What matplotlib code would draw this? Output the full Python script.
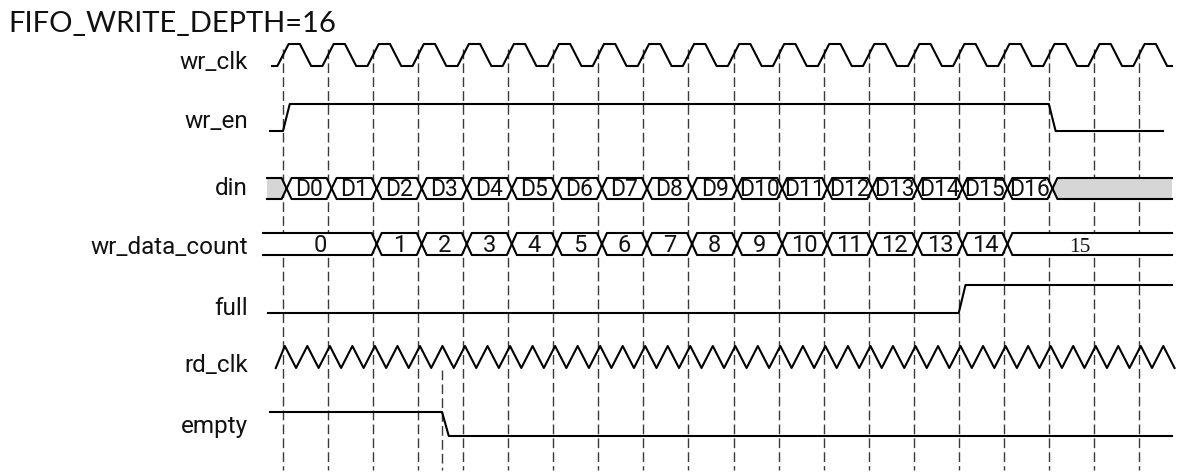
import matplotlib.pyplot as plt
from matplotlib.patches import Polygon

# FIFO write timing diagram, time is counted in wr_clk cycles
title = 'FIFO_WRITE_DEPTH=16'
signals = ['wr_clk', 'wr_en', 'din', 'wr_data_count', 'full', 'rd_clk', 'empty']

# clock edges
wr_clk_rise = [0, 1, 2, 3, 4, 5, 6, 7, 8, 9, 10, 11, 12, 13, 14, 15, 16, 17, 18, 19]
rd_clk_peaks = [0.0, 0.5, 1.0, 1.5, 2.0, 2.5, 3.0, 3.5, 4.0, 4.5,
                5.0, 5.5, 6.0, 6.5, 7.0, 7.5, 8.0, 8.5, 9.0, 9.5,
                10.0, 10.5, 11.0, 11.5, 12.0, 12.5, 13.0, 13.5, 14.0, 14.5,
                15.0, 15.5, 16.0, 16.5, 17.0, 17.5, 18.0, 18.5, 19.0, 19.5]

# single bit signals: starting level and the times where they toggle
wr_en_start = 0
wr_en_edges = [0, 17]
full_start = 0
full_edges = [15]
empty_start = 1
empty_edges = [3.53]

# buses
din_edges = [0, 1, 2, 3, 4, 5, 6, 7, 8, 9, 10, 11, 12, 13, 14, 15, 16, 17]
din_values = ['', 'D0', 'D1', 'D2', 'D3', 'D4', 'D5', 'D6', 'D7', 'D8', 'D9',
              'D10', 'D11', 'D12', 'D13', 'D14', 'D15', 'D16', '']
count_edges = [2, 3, 4, 5, 6, 7, 8, 9, 10, 11, 12, 13, 14, 15, 16]
count_values = ['0', '1', '2', '3', '4', '5', '6', '7', '8', '9',
                '10', '11', '12', '13', '14', '15']

# layout (pixel rows, y grows downward)
W, H = 1196, 472
X0 = 283.0       # pixel of first dashed line
PX = 45.05       # pixels per wr_clk cycle
rows = {  # top level, bottom level, label baseline
    'wr_clk': (44, 66, 69),
    'wr_en': (104, 131, 128),
    'din': (178, 199, 195),
    'wr_data_count': (233, 255, 254),
    'full': (285, 313, 315),
    'rd_clk': (346, 368, 372),
    'empty': (412, 436, 433),
}
LW = 1.5
GRAY = '#d6d6d6'
LABEL_FONT = 'Roboto'


def t(px):
    return (px - X0) / PX


def draw_levels(ax, top, bot, start, end, level, edges, slope=0.15):
    xs = [start]
    ys = [top if level else bot]
    for e in edges:
        xs += [e, e + slope]
        ys.append(top if level else bot)
        level = 1 - level
        ys.append(top if level else bot)
    xs.append(end)
    ys.append(top if level else bot)
    ax.plot(xs, ys, color='black', lw=LW, zorder=3)


def draw_wr_clk(ax, top, bot, start, end, rises):
    q = 0.25
    xs = [start]
    ys = [bot]
    for r in rises:
        xs += [r - q / 2, r + q / 2, r + q * 1.5, r + q * 2.5]
        ys += [bot, top, top, bot]
    xs.append(end)
    ys.append(bot)
    ax.plot(xs, ys, color='black', lw=LW, zorder=3)


def draw_rd_clk(ax, top, bot, peaks, phase=0.04):
    xs = [peaks[0] + phase - 0.2]
    ys = [bot]
    for p in peaks:
        xs += [p + phase, p + phase + 0.25]
        ys += [top, bot]
    ax.plot(xs, ys, color='black', lw=LW, zorder=3)


def draw_bus(ax, top, bot, start, end, edges, values, fills, text_kw,
             w=0.22, shift=0.08):
    mid = (top + bot) / 2
    bounds = [start] + edges + [end]
    for i, val in enumerate(values):
        s, e = bounds[i], bounds[i + 1]
        up, dn = [], []
        if i > 0:
            c = s + shift
            up += [(c, mid), (c + w / 2, top)]
            dn += [(c, mid), (c + w / 2, bot)]
        else:
            up.append((s, top))
            dn.append((s, bot))
        if i < len(values) - 1:
            c = e + shift
            up += [(c - w / 2, top), (c, mid)]
            dn += [(c - w / 2, bot), (c, mid)]
        else:
            up.append((e, top))
            dn.append((e, bot))
        ax.add_patch(Polygon(up + dn[::-1], closed=True, fc=fills[i],
                             ec='none', zorder=2))
        ax.plot(*zip(*up), color='black', lw=LW, zorder=3)
        ax.plot(*zip(*dn), color='black', lw=LW, zorder=3)
        if val:
            kw = dict(text_kw)
            if callable(kw.get('family')):
                kw['family'] = kw['family'](val)
            if callable(kw.get('fontsize')):
                kw['fontsize'] = kw['fontsize'](val)
            xc = (up[0][0] + up[-1][0]) / 2 + kw.pop('dx', lambda v: 0)(val)
            ax.text(xc, mid + kw.pop('dy', lambda v: 7)(val), val,
                    ha='center', va='baseline', zorder=4, **kw)


fig = plt.figure(figsize=(W / 100, H / 100), dpi=100)
ax = fig.add_axes([0, 0, 1, 1])
ax.set_xlim(t(0), t(W))
ax.set_ylim(H, 0)
ax.axis('off')

# dashed guide lines on every wr_clk rising edge
for r in wr_clk_rise:
    ax.plot([r, r], [49, 470], color='#3a3a3a', lw=1.0, dashes=(7, 3), zorder=1)
# extra guide on the rd_clk edge that clears empty
ax.plot([empty_edges[0], empty_edges[0]], [370, 470], color='#3a3a3a', lw=1.0,
        dashes=(7, 3), zorder=1)

top, bot, _ = rows['wr_clk']
draw_wr_clk(ax, top, bot, t(272), t(1172), wr_clk_rise)

top, bot, _ = rows['wr_en']
draw_levels(ax, top, bot, t(270), t(1163), wr_en_start, wr_en_edges)

top, bot, _ = rows['din']
din_fills = [GRAY if v == '' else 'white' for v in din_values]
draw_bus(ax, top, bot, t(267), t(1172), din_edges, din_values, din_fills,
         dict(family=LABEL_FONT, fontsize=16.5, color='#111111',
              dy=lambda v: 7.5))

top, bot, _ = rows['wr_data_count']
count_fills = ['white'] * len(count_values)
last = count_values[-1]
draw_bus(ax, top, bot, t(263), t(1172), count_edges, count_values, count_fills,
         dict(family=lambda v: 'Liberation Serif' if v == last else LABEL_FONT,
              fontsize=lambda v: 15.5 if v == last else 17,
              color='#111111',
              dx=lambda v: -0.22 if v == last else 0,
              dy=lambda v: 8.5 if v == last else 8))

top, bot, _ = rows['full']
draw_levels(ax, top, bot, t(268), t(1172), full_start, full_edges)

top, bot, _ = rows['rd_clk']
draw_rd_clk(ax, top, bot, rd_clk_peaks)

top, bot, _ = rows['empty']
draw_levels(ax, top, bot, t(270), t(1172), empty_start, empty_edges)

# signal names
for name in signals:
    ax.text(t(248), rows[name][2], name, ha='right', va='baseline',
            family=LABEL_FONT, fontsize=17.5, color='#111111')

fig.text(8 / W, 1 - 32 / H, title, ha='left', va='baseline',
         family='Lato', fontsize=21, color='#111111')

fig.savefig('out.png', dpi=100)
